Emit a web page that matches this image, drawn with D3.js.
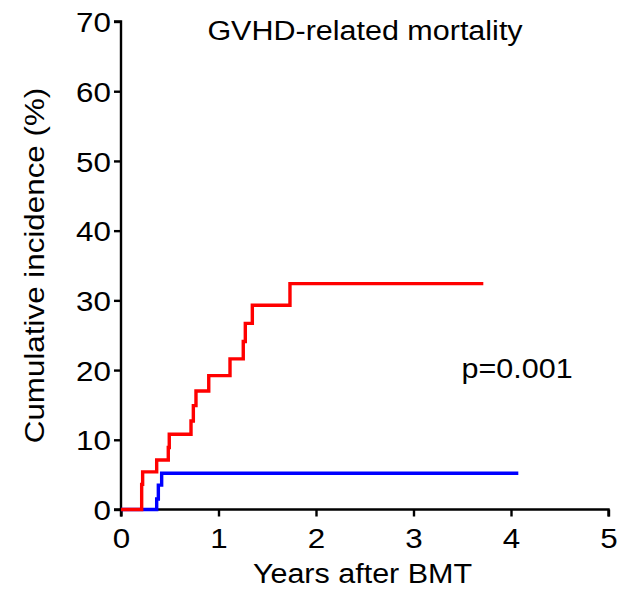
<!DOCTYPE html>
<html>
<head>
<meta charset="utf-8">
<script src="https://cdn.jsdelivr.net/npm/d3@7"></script>
<style>
  html, body { margin: 0; padding: 0; background: #fff; }
  text { font-family: "Liberation Sans", Arial, sans-serif; fill: #000; }
</style>
</head>
<body>
<script>
// Data
const redTimes  = [0, 0.212, 0.222, 0.366, 0.485, 0.495, 0.718, 0.742, 0.769, 0.900, 1.118, 1.254, 1.275, 1.347, 1.733, 3.716];
const redValues = [0, 3.6,   5.4,   7.1,   8.9,   10.8,  12.7,  14.9,  17.0,  19.2,  21.6,  24.1,  26.7,  29.3,  32.4,  32.4];
const blueTimes  = [0, 0.366, 0.383, 0.417, 4.075];
const blueValues = [0, 1.5,   3.5,   5.2,   5.2];
const xTicks = [0, 1, 2, 3, 4, 5];
const yTicks = [0, 10, 20, 30, 40, 50, 60, 70];
const titleText = "GVHD-related mortality";
const xLabel = "Years after BMT";
const yLabel = "Cumulative incidence (%)";
const pText = "p=0.001";

const W = 617, H = 590;
const FS = 28, SX = 1.09, SXT = 1.12;   // text size and horizontal stretch of the reference typeface
const svg = d3.select("body").append("svg").attr("width", W).attr("height", H);

const x = d3.scaleLinear().domain([0, 5]).range([121, 608.5]);
const y = d3.scaleLinear().domain([0, 70]).range([509.5, 21.5]);

// Axes
const xAxis = svg.append("g").attr("transform", `translate(0,${y(0)})`)
  .call(d3.axisBottom(x).tickValues(xTicks).tickSize(7).tickPadding(4).tickFormat(d3.format("d")));
const yAxis = svg.append("g").attr("transform", `translate(${x(0)},0)`)
  .call(d3.axisLeft(y).tickValues(yTicks).tickSize(7).tickPadding(3).tickFormat(d3.format("d")));
[xAxis, yAxis].forEach(g => {
  g.select(".domain").attr("stroke", "#000").attr("stroke-width", 2.4);
  g.selectAll(".tick line").attr("stroke", "#000").attr("stroke-width", 2.4);
  g.selectAll(".tick text").attr("font-size", FS).attr("font-family", "Liberation Sans, Arial, sans-serif").attr("fill", "#000");
});
yAxis.selectAll(".domain").attr("d", `M-7,${y(70)}H0V${y(0)}H-7`).attr("fill", "none");
xAxis.select(".domain").attr("d", `M${x(0)},7V0H${x(5)}V7`).attr("fill", "none");
// stretch tick labels horizontally around their anchor
xAxis.selectAll(".tick text").attr("y", 0).attr("dy", 0)
  .attr("transform", `translate(0,38.2) scale(${SXT},1)`);
yAxis.selectAll(".tick text").attr("x", 0).attr("dy", "0.36em")
  .attr("transform", `translate(-10,0) scale(${SXT},1)`);

// Curves
const line = d3.line().x(d => x(d[0])).y(d => y(d[1])).curve(d3.curveStepAfter);
const redData = redTimes.map((t, i) => [t, redValues[i]]);
const blueData = blueTimes.map((t, i) => [t, blueValues[i]]);
svg.append("path").datum(blueData).attr("d", line)
  .attr("fill", "none").attr("stroke", "#0000ff").attr("stroke-width", 3.4);
svg.append("path").datum(redData).attr("d", line)
  .attr("fill", "none").attr("stroke", "#ff0000").attr("stroke-width", 3.4);

// Texts
svg.append("text").attr("transform", `translate(365,40) scale(${SX},1)`).attr("text-anchor", "middle")
  .attr("font-size", FS).text(titleText);
svg.append("text").attr("transform", `translate(461.5,377.5) scale(${SX},1)`).attr("font-size", FS).text(pText);
svg.append("text").attr("transform", `translate(362.5,583) scale(${SX},1)`).attr("text-anchor", "middle")
  .attr("font-size", FS).text(xLabel);
svg.append("text").attr("transform", `translate(43.5,265.5) rotate(-90) scale(1.12,1)`).attr("text-anchor", "middle")
  .attr("font-size", FS).text(yLabel);
</script>
</body>
</html>
